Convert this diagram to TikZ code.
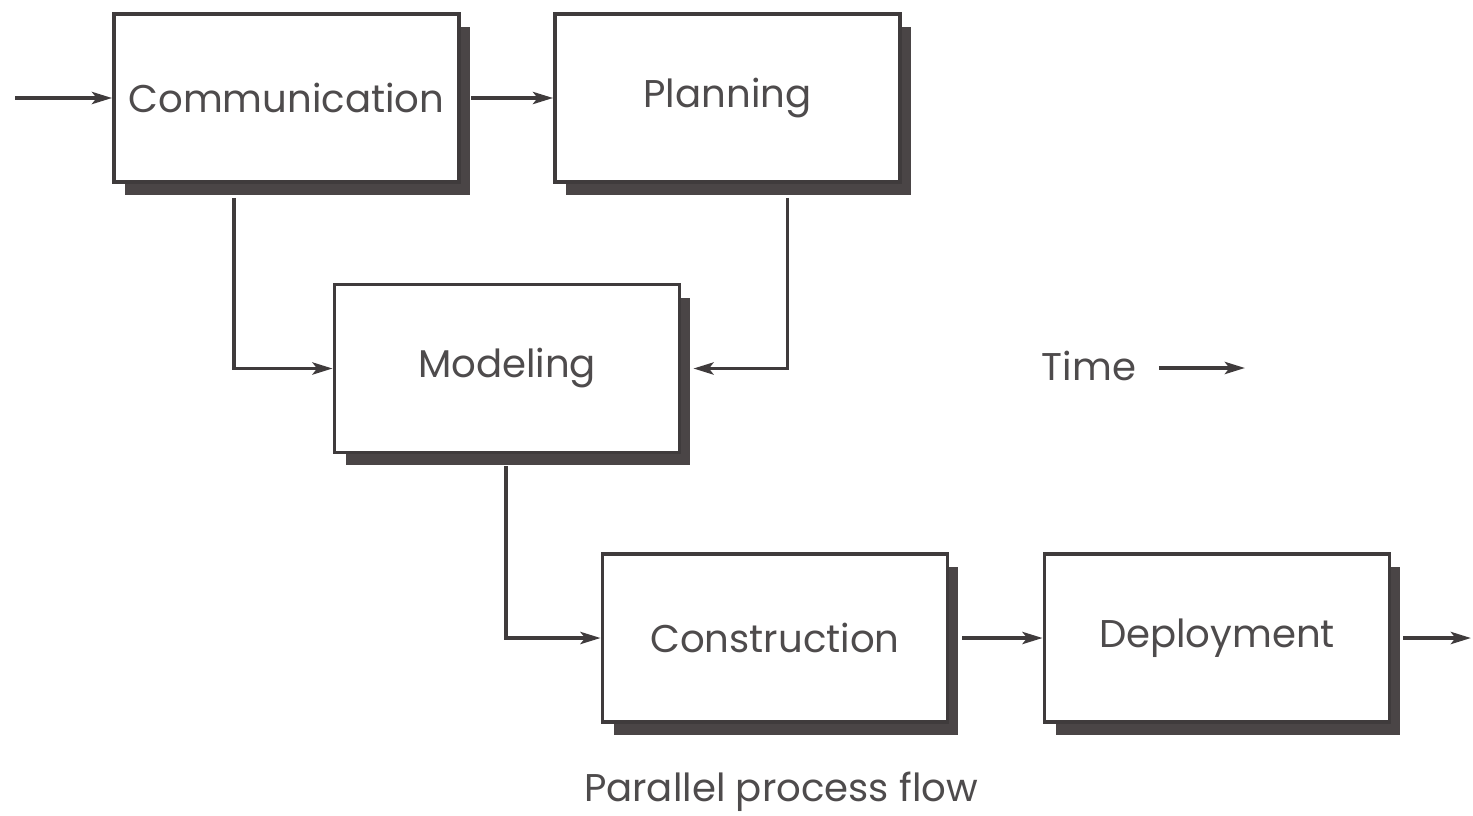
\documentclass[tikz,border=0pt]{standalone}
\usepackage{fontspec}
\setmainfont{Poppins}
\usetikzlibrary{arrows.meta,shadows,calc}
\definecolor{linec}{HTML}{3F3B3C}
\definecolor{shadc}{HTML}{4A4546}
\definecolor{textc}{HTML}{4E4B4C}
\tikzset{
  phase/.style={draw=linec, line width=2.2pt, fill=white, minimum width=6.9cm, minimum height=3.36cm,
    inner sep=0pt, text=textc, font=\fontsize{22}{26}\selectfont,
    drop shadow={shadow xshift=0.22cm, shadow yshift=-0.26cm, fill=shadc, opacity=1}},
  arr/.style={draw=linec, line width=2.2pt, -{Stealth[length=0.4cm, width=0.24cm, inset=0.09cm]}},
  lbl/.style={text=textc, font=\fontsize{22}{26}\selectfont, inner sep=0pt}
}
\begin{document}
\begin{tikzpicture}[x=0.02cm, y=-0.02cm]
\useasboundingbox (0,0) rectangle (1473,815);
\node[phase] (comm) at (286.5,98) {Communication};
\node[phase] (plan) at (727.5,98) {Planning};
\node[phase] (model) at (507,368.5) {Modeling};
\node[phase] (cons) at (775,638) {Construction};
\node[phase] (dep) at (1217,638) {Deployment};
\coordinate (in) at (15,98);
\coordinate (out) at (1471,638);
\node[lbl] (time) at (1089,366) {Time};
\coordinate (tend) at (1245,368);
\node[lbl] (cap) at (781,792) {Parallel process flow};
\draw[arr] (in) -- (comm.west);
\draw[arr] ([xshift=0.2cm]comm.east) -- (plan.west);
\draw[arr] ($(comm.south)+(-52.5,14)$) |- (model.west);
\draw[arr] ($(plan.south)+(60,14)$) |- ([xshift=0.24cm]model.east);
\draw[arr] ($(model.south)+(-1,12)$) |- (cons.west);
\draw[arr] ([xshift=0.26cm]cons.east) -- (dep.west);
\draw[arr] ([xshift=0.24cm]dep.east) -- (out);
\draw[arr] ([xshift=0.45cm]time.east |- tend) -- (tend);
\end{tikzpicture}
\end{document}
